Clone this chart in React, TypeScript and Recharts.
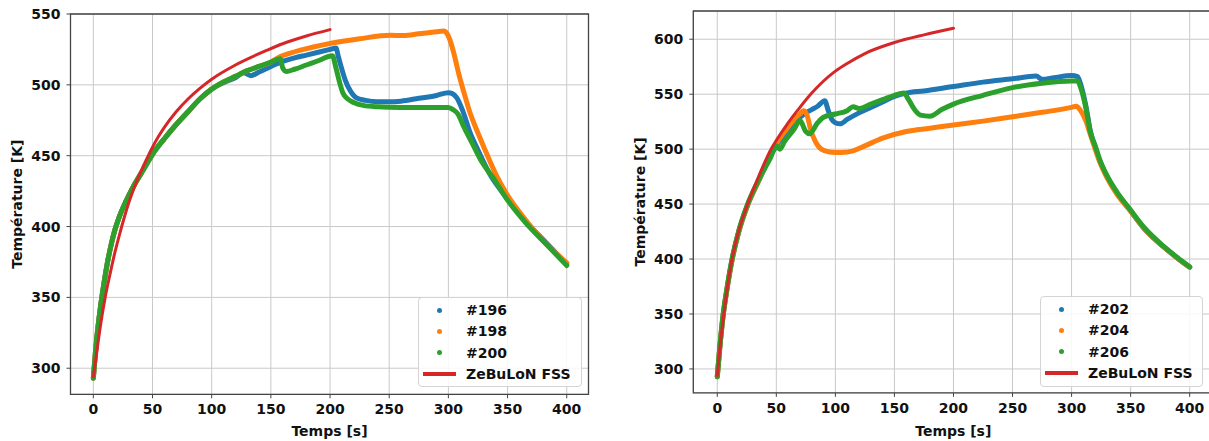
import React from 'react';
import { LineChart, Line, XAxis, YAxis, CartesianGrid, Legend, ReferenceArea } from 'recharts';

const FONT = '"DejaVu Sans", "Liberation Sans", sans-serif';

// ---------- shared ticks ----------
const xTicks = [0, 50, 100, 150, 200, 250, 300, 350, 400];
const yTicksLeft = [300, 350, 400, 450, 500, 550];
const yTicksRight = [300, 350, 400, 450, 500, 550, 600];

// ---------- left panel ----------
const t196 = [0, 3, 6, 9, 12, 15, 18, 22, 26, 30, 35, 40, 45, 50, 60, 70, 80, 90, 100, 110, 120, 127, 133, 140, 150, 160, 170, 180, 190, 200, 205, 207, 210, 213, 217, 222, 230, 240, 250, 260, 275, 290, 300, 303, 307, 312, 318, 325, 335, 350, 365, 381, 400];
const T196 = [293, 322, 343, 360, 375, 387, 397, 407, 415, 422, 430, 437, 444, 451, 462, 472, 481, 490, 497, 501.5, 505, 508.5, 506.5, 509, 513, 516.5, 519, 521, 523, 525, 526, 520, 511, 503, 496, 491, 489, 488, 488, 488.5, 490.5, 492.5, 494.5, 494, 491, 482, 467, 454, 437, 419.5, 404, 390, 373.5];

const t198 = [0, 3, 6, 9, 12, 15, 18, 22, 26, 30, 35, 40, 45, 50, 60, 70, 80, 90, 100, 110, 120, 130, 140, 150, 158, 165, 175, 185, 202, 225, 251, 262, 275, 290, 296, 299, 302, 305, 309, 313, 318, 325, 330, 340, 350, 365, 380, 400];
const T198 = [293, 322, 343, 360, 375, 387, 397, 407, 415, 422, 430, 437, 444, 451, 462, 472, 481, 490, 497, 502, 506, 510, 513, 516, 520, 522, 524.5, 526.5, 529.5, 532.5, 535, 534.8, 536, 537.5, 538, 536, 530, 521, 507, 495, 481, 466, 456, 437, 422, 405, 390, 374.5];

const t200 = [0, 3, 6, 9, 12, 15, 18, 22, 26, 30, 35, 40, 45, 50, 60, 70, 80, 90, 100, 110, 120, 130, 140, 150, 158, 160, 163, 170, 180, 190, 202, 205, 208, 211, 215, 220, 228, 240, 260, 280, 300, 304, 308, 313, 320, 327, 339, 350, 365, 381, 400];
const T200 = [293, 322, 343, 360, 375, 387, 397, 407, 415, 422, 430, 437, 444, 451, 462, 472, 481, 490, 497, 502, 506, 510, 513, 516, 518.5, 512, 509.5, 511, 514, 517, 520.5, 512, 502, 494, 490, 487.5, 485.5, 484.5, 484, 484, 484, 482.5, 479.5, 470.5, 459, 447.5, 433, 418.6, 403, 389, 372.5];

const tFssLeft = [0, 3, 6, 10, 14, 18, 22, 26, 30, 35, 40, 45, 50, 55, 60, 70, 80, 90, 100, 120, 147, 160, 180, 200];
const TFssLeft = [294, 312, 330, 350, 366, 381, 394, 406, 417, 428.5, 438.5, 447.5, 456, 463.5, 470, 481, 490, 497.5, 504, 514, 524.5, 529, 534.5, 539];

// ---------- right panel ----------
const t202 = [0, 2, 5, 8, 12.5, 18, 25.7, 35, 45, 50, 55, 60, 65, 70, 75, 80, 85, 91, 94, 97, 100, 104, 110, 120, 130, 140, 150, 160, 175, 200, 225, 250, 270, 275, 285, 300, 305, 308, 312, 316, 320, 324, 329, 339, 349, 362, 378, 390, 400];
const T202 = [293, 318, 349, 371, 399, 424, 449, 471, 494, 503, 511, 518, 524, 529, 533, 536, 539, 544, 535, 527, 524, 523, 527, 533, 538, 543, 548, 551, 553, 557, 561, 564, 566.5, 563.5, 565, 567, 566, 558, 540, 516, 502, 489, 477, 459, 445, 427, 411, 400.5, 392.5];

const t204 = [0, 2, 5, 8, 12.5, 18, 25.7, 35, 45, 50, 55, 60, 65, 70, 73, 76, 79, 83, 88, 95, 105, 115, 125, 140, 160, 180, 200, 225, 250, 275, 300, 304, 307, 312, 316, 320, 324, 329, 339, 349, 362, 378, 390, 400];
const T204 = [293, 318, 349, 371, 399, 424, 449, 471, 495, 505, 513, 520, 527, 532, 535, 531, 518, 507, 500, 497.5, 497, 498.5, 503, 510, 516, 519, 522, 525.5, 529.5, 533.5, 538, 539, 536, 526, 513, 500, 488, 476, 458, 445, 427, 411, 400.5, 392.5];

const t206 = [0, 2, 5, 8, 12.5, 18, 25.7, 35, 45, 50, 53, 57, 65, 70, 75, 78, 85, 90, 100, 110, 115, 120, 130, 140, 150, 158, 162, 167, 172, 180, 190, 200, 225, 250, 275, 300, 305, 308, 312, 316, 320, 324, 329, 339, 349, 362, 378, 390, 400];
const T206 = [293, 318, 350, 372, 400, 425, 450, 472, 492, 503, 500, 507, 518, 526, 516, 514, 524, 529, 532, 535, 538.5, 537, 541, 545, 549, 551, 545, 536, 531, 530, 536, 541, 549, 556, 560, 562, 562, 555, 538, 515, 503, 490, 478, 460, 446, 428, 411.5, 401, 393];

const tFssRight = [0, 2.5, 5, 8, 12.5, 18, 25.7, 35, 45.5, 50, 60, 70, 80, 90, 100, 110, 125, 150, 175, 200];
const TFssRight = [294, 322, 345, 370, 400, 425, 450, 475, 500, 508, 524, 538, 551, 562, 571, 578, 587, 597, 604, 610];

const zip = (t: number[], v: number[]) => t.map((x, i) => ({ t: x, v: v[i] }));

type Series = { name: string; color: string; data: { t: number; v: number }[]; kind: 'dot' | 'line' };

const leftSeries: Series[] = [
  { name: '#196', color: '#1f77b4', data: zip(t196, T196), kind: 'dot' },
  { name: '#198', color: '#ff7f0e', data: zip(t198, T198), kind: 'dot' },
  { name: '#200', color: '#2ca02c', data: zip(t200, T200), kind: 'dot' },
  { name: 'ZeBuLoN FSS', color: '#d62728', data: zip(tFssLeft, TFssLeft), kind: 'line' },
];

const rightSeries: Series[] = [
  { name: '#202', color: '#1f77b4', data: zip(t202, T202), kind: 'dot' },
  { name: '#204', color: '#ff7f0e', data: zip(t204, T204), kind: 'dot' },
  { name: '#206', color: '#2ca02c', data: zip(t206, T206), kind: 'dot' },
  { name: 'ZeBuLoN FSS', color: '#d62728', data: zip(tFssRight, TFssRight), kind: 'line' },
];

const tickStyle = { fill: '#111', fontSize: 14, fontWeight: 700, fontFamily: FONT };

function LegendBox({ series }: { series: Series[] }) {
  return (
    <div
      style={{
        position: 'relative',
        width: '100%',
        height: '100%',
        boxSizing: 'border-box',
        border: '1px solid #d4d4d4',
        borderRadius: 4,
        background: 'rgba(255,255,255,0.85)',
        fontFamily: FONT,
        fontWeight: 700,
        fontSize: 14,
        color: '#111',
      }}
    >
      {series.map((s, i) => (
        <div key={s.name} style={{ position: 'absolute', left: 0, top: 12 + i * 21.3 - 9, height: 18, width: '100%' }}>
          {s.kind === 'dot' ? (
            <div style={{ position: 'absolute', left: 18, top: 6.5, width: 5, height: 5, borderRadius: 3, background: s.color }} />
          ) : (
            <div style={{ position: 'absolute', left: 4, top: 7, width: 33, height: 4, background: s.color }} />
          )}
          <div style={{ position: 'absolute', left: 47, top: 0, lineHeight: '18px', whiteSpace: 'nowrap' }}>{s.name}</div>
        </div>
      ))}
    </div>
  );
}

type PanelProps = {
  width: number;
  margin: { top: number; right: number; left: number; bottom: number };
  yAxisWidth: number;
  xAxisHeight: number;
  xDomain: [number, number];
  yDomain: [number, number];
  yTicks: number[];
  series: Series[];
  legendPos: { left: number; top: number; width: number; height: number };
  yLabelX: number;
};

function Panel(p: PanelProps) {
  const plotLeft = p.margin.left + p.yAxisWidth;
  const plotRight = p.width - p.margin.right;
  const plotTop = p.margin.top;
  const plotBottom = 441 - p.margin.bottom - p.xAxisHeight;
  const cx = (plotLeft + plotRight) / 2;
  const cy = (plotTop + plotBottom) / 2;
  return (
    <LineChart width={p.width} height={441} margin={p.margin}>
      <CartesianGrid stroke="#c9c9c9" strokeWidth={1} />
      <XAxis
        dataKey="t"
        type="number"
        domain={p.xDomain}
        ticks={xTicks}
        allowDataOverflow
        height={p.xAxisHeight}
        axisLine={false}
        tickLine={{ stroke: '#444' }}
        tickSize={4}
        tickMargin={6}
        tick={tickStyle}
        interval={0}
      />
      <YAxis
        dataKey="v"
        type="number"
        domain={p.yDomain}
        ticks={p.yTicks}
        allowDataOverflow
        width={p.yAxisWidth}
        axisLine={false}
        tickLine={{ stroke: '#444' }}
        tickSize={4}
        tickMargin={6}
        tick={tickStyle}
        interval={0}
      />
      {p.series.map((s) => (
        <Line
          key={s.name}
          data={s.data}
          dataKey="v"
          name={s.name}
          type="monotone"
          stroke={s.color}
          strokeWidth={s.kind === 'dot' ? 5 : 3}
          strokeLinecap="round"
          strokeLinejoin="round"
          dot={false}
          activeDot={false}
          isAnimationActive={false}
        />
      ))}
      <ReferenceArea
        x1={p.xDomain[0]}
        x2={p.xDomain[1]}
        y1={p.yDomain[0]}
        y2={p.yDomain[1]}
        fill="none"
        fillOpacity={0}
        stroke="#444"
        strokeWidth={1.3}
        ifOverflow="visible"
      />
      <Legend
        layout="vertical"
        align="center"
        verticalAlign="middle"
        wrapperStyle={{ position: 'absolute', ...p.legendPos }}
        content={() => <LegendBox series={p.series} />}
      />
      <text
        x={cx}
        y={436}
        textAnchor="middle"
        fontFamily={FONT}
        fontWeight={700}
        fontSize={14}
        fill="#111"
      >
        Temps [s]
      </text>
      <text
        x={p.yLabelX}
        y={cy}
        transform={`rotate(-90 ${p.yLabelX} ${cy})`}
        textAnchor="middle"
        dominantBaseline="central"
        fontFamily={FONT}
        fontWeight={700}
        fontSize={14}
        fill="#111"
      >
        Température [K]
      </text>
    </LineChart>
  );
}

export default function App() {
  return (
    <div style={{ position: 'absolute', left: 0, top: 0, width: 1209, height: 441, overflow: 'hidden', background: '#fff' }}>
      <div style={{ position: 'absolute', left: 0, top: 0 }}>
        <Panel
          width={600}
          margin={{ top: 14, right: 11.5, left: 0, bottom: 0 }}
          yAxisWidth={70.5}
          xAxisHeight={46.7}
          xDomain={[-19.3, 418.4]}
          yDomain={[281.6, 550]}
          yTicks={yTicksLeft}
          series={leftSeries}
          legendPos={{ left: 418, top: 297, width: 164, height: 90 }}
          yLabelX={17}
        />
      </div>
      <div style={{ position: 'absolute', left: 600, top: 0 }}>
        <Panel
          width={620}
          margin={{ top: 11, right: 6.7, left: 0, bottom: 0 }}
          yAxisWidth={93.3}
          xAxisHeight={48.1}
          xDomain={[-20.3, 420]}
          yDomain={[278.2, 625.7]}
          yTicks={yTicksRight}
          series={rightSeries}
          legendPos={{ left: 440, top: 296, width: 163, height: 91 }}
          yLabelX={40}
        />
      </div>
    </div>
  );
}
